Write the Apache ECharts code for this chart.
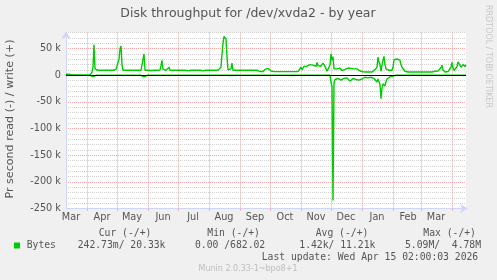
<!DOCTYPE html>
<html><head><meta charset="utf-8">
<script src="https://cdn.jsdelivr.net/npm/echarts@6/dist/echarts.min.js"></script>
<style>html,body{margin:0;padding:0;background:#f0f0f0;}#c{width:497px;height:280px;}</style>
</head><body><div id="c"></div>
<script>
// ---- data ----
const START_DATE = '2025-03-11';
const DAYS = 401;
const MONTH_NAMES = ['Jan','Feb','Mar','Apr','May','Jun','Jul','Aug','Sep','Oct','Nov','Dec'];
const Y_MIN = -250000, Y_MAX = 80000, Y_STEP = 10000, Y_LABEL_STEP = 50000;
// write bytes/s (thousands), one value per day
const writeK = [
2,2,2,2,2,2,0.5,0.5,0.5,0.5,0.5,1.5,0.3,0.3,0.3,0.3,0.3,0.3,0.3,0.3,
0.3,0.3,0.3,0.3,0.3,1,6,15,57,12,9.4,9.4,9.4,9.4,9.4,9.4,9.4,9.4,9.4,9.4,
9.4,9.4,9.4,9.4,9.4,9.4,9.4,9.4,10,10.5,11,13,12,30,50,55,20,9.4,9.4,9.4,
9.4,9.4,9.4,9.4,9.4,9.4,9.4,9,9.4,9.4,9.4,9.4,9.4,9.4,9.4,9.4,10,12,40,9.4,
9.4,9.4,9.4,9.4,9.4,9,9.4,9.4,9.4,9.4,9.4,9.4,9.4,9.4,10,18,28,11,9.4,9.4,
9.4,9.4,10,15,9.4,9.4,9.4,9.4,9.4,9.4,9.4,9.4,9.4,9.4,9.4,9.4,9.4,9.4,9.4,9.4,
9.4,9.4,8.5,9.4,9.4,9.4,9.4,9.4,9.4,9.4,9.4,9.4,9.4,9.4,9.4,9.4,8.5,8.5,9,8.5,
9.4,9.4,9.4,9.4,9.4,9.4,9.4,9.4,9.4,9.4,9.4,9.4,9.4,9.4,9.4,15,40,60,73,76,
68,35,10,9.4,9.4,12,23,9.4,9.4,9.4,9.4,9.4,9.4,9.4,9.4,9.4,9.4,9.4,9.4,9.4,
9.4,9.4,9.4,9.4,9.4,9.4,9.4,9.4,9.4,9.4,9.4,9.4,7,7,7,7,7,7,10,11,
12,13,13,12,10,8,6.8,6.8,6.8,6.8,6.8,6.8,6.8,6.8,6.8,6.8,9.5,6.8,6.8,6.8,
6.8,9.5,6.8,6.8,6.8,6.8,6.8,6.8,6.8,6.8,6.8,6.8,6.8,6.8,6.8,15,10.5,13,16.5,14,
13.5,17,19,16.5,20,23,18,19,20,18,16.5,24,18,21,20,17,15,23,20,16.5,
12,7.5,8.5,8,19,40,28,35,12,8.5,10,12,10.5,12,13.5,11,8.5,10,12,11,
10,9.4,13.5,12,15,13,11,13.5,12,10.5,11,12,10,8.5,8,7,6.8,6.5,6.2,6.2,
6.2,6.2,6.2,6.2,6.2,6.2,6.2,8,9,10.5,12,15,34,25,20,7.5,19,28,35.5,20,
12,10,9.4,9.4,9.4,9.4,9.4,15,29,30,30.5,30.5,30.5,30,28,20,15,15,12,7.5,
6.5,6.2,6.2,6.2,6.2,6.2,6.2,6.2,6.2,7,6.2,6.2,6.2,6.2,6.2,6.2,6.2,6.2,6.2,6.2,
6.2,6.2,6.2,6.2,6.2,6.2,6.2,6.2,7,7.5,7.5,8,8,9,11,14,19,10,8,6.2,
6.5,7,7,8,10,15,24,14,9,6.5,10,16,25,22,19,15,13,20,18,16,
20
];
// read bytes/s (thousands, drawn negative), one value per day
const readK = [
0,0,0,0,0,0,0,0,0,0,0,0,0,0,0,0,0,0,0,0,
0,0,0,0,0,0,0,-2.6,0,0,0,0,0,0,0,0,0,0,0,0,
0,0,0,0,0,0,0,0,0,0,0,0,0,0,0,0,0,0,0,0,
0,0,0,0,0,0,0,0,0,0,0,0,0,0,0,0,0,0,-3,0,
0,0,0,0,0,0,0,0,0,0,0,0,0,0,0,0,0,0,0,0,
0,0,0,-2.6,0,0,0,0,0,0,0,0,0,0,0,0,0,0,0,0,
0,0,0,0,0,0,0,0,0,0,0,0,0,0,0,0,0,0,0,0,
0,0,0,0,0,0,0,0,0,0,0,0,0,0,0,0,0,0,0,0,
0,0,0,0,0,0,-2.6,0,0,0,0,0,0,0,0,0,0,0,0,0,
0,0,0,0,0,0,0,0,0,0,0,0,0,0,0,0,0,0,0,0,
0,0,0,0,0,0,0,0,0,0,0,0,0,0,0,0,0,0,0,0,
0,0,0,0,0,0,0,0,0,0,0,0,0,0,0,0,0,0,0,0,
0,0,0,0,0,0,0,0,0,0,0,0,0,0,0,0,0,0,0,0,
0,0,0,0,0,-14,-20,-235,-15,-8,-5,-5,-6,-6.5,-7,-9,-11,-8,-6,-5.6,
-5,-5,-5,-8,-11,-14,-9,-6,-5.6,-7,-8,-9.5,-11,-9,-8,-7,-7,-5,-4,-3.7,
-3.7,-4,-5,-4,-3.7,-3.7,-3.7,-5.6,-6,-7,-9,-12.5,-7,-12,-17.6,-44,-24,-16,-18,-20,
-12,-7,-3.7,-3.5,-3,-2.5,-2,-1.5,-1,-0.5,0,0,0,0,0,0,0,0,0,0,
0,0,0,0,0,0,0,0,0,0,0,0,0,0,0,0,0,0,0,0,
0,0,0,0,0,0,0,0,0,0,0,0,0,0,0,0,0,0,0,0,
0,0,0,0,0,0,0,0,0,0,0,0,0,0,0,0,0,0,0,0,
0
];
const TITLE = 'Disk throughput for /dev/xvda2 - by year';
const Y_NAME = 'Pr second read (-) / write (+)';
const SERIES_NAME = 'Bytes';
const LEGEND_HEADERS = ['Cur (-/+)','Min (-/+)','Avg (-/+)','Max (-/+)'];
const LEGEND_VALUES = ['242.73m/ 20.33k','0.00 /682.02','1.42k/ 11.21k','5.09M/  4.78M'];
const LAST_UPDATE = 'Last update: Wed Apr 15 02:00:03 2026';
const FOOTER = 'Munin 2.0.33-1~bpo8+1';
const SIDE = 'RRDTOOL / TOBI OETIKER';

// ---- build ----
const categories = [];
{
  const s = new Date(START_DATE + 'T00:00:00Z');
  for (let i = 0; i < DAYS; i++) {
    const d = new Date(s.getTime() + i * 86400000);
    categories.push(d.toISOString().slice(0, 10));
  }
}
const dayOf = v => parseInt(v.slice(8, 10), 10);
const GREEN = '#00cc00';
const MAJOR = '#f3a3a3';
const MINOR = '#d2d2d2';
const AXIS = '#cfd6f8';
const SANS = '"DejaVu Sans", sans-serif';
const MONO = '"DejaVu Sans Mono", monospace';
const FS = 9.72;

const chart = echarts.init(document.getElementById('c'), null, {renderer: 'canvas'});
const gridLeft = 66, gridTop = 32.6, gridW = 400, gridH = 176;

const legendX = [98.7, 207.3, 315.7, 423.3];
const valueX = [77.7, 195, 299.3, 405];
const graphics = [
  {type:'text', x:248, y:14, style:{text:TITLE, fill:'#555', font:'12.5px ' + SANS, align:'center', verticalAlign:'middle'}},
  {type:'text', x:10, y:119, rotation:Math.PI/2, style:{text:Y_NAME, fill:'#555', font:'11.1px ' + SANS, align:'center', verticalAlign:'middle'}},
  {type:'text', x:488, y:56.5, rotation:-Math.PI/2, style:{text:SIDE, fill:'#c8c8c8', font:'8px ' + SANS, align:'center', verticalAlign:'middle'}},
  {type:'rect', shape:{x:14, y:242.5, width:6, height:6}, style:{fill:GREEN}},
  {type:'text', x:26.7, y:245.7, style:{text:SERIES_NAME, fill:'#555', font:FS + 'px ' + MONO, align:'left', verticalAlign:'middle'}},
  {type:'text', x:261.7, y:257.3, style:{text:LAST_UPDATE, fill:'#555', font:FS + 'px ' + MONO, align:'left', verticalAlign:'middle'}},
  {type:'text', x:248, y:269.3, style:{text:FOOTER, fill:'#bdbdbd', font:'8px ' + SANS, align:'center', verticalAlign:'middle'}}
];
LEGEND_HEADERS.forEach((t, i) => graphics.push({type:'text', x:legendX[i], y:233.3, style:{text:t, fill:'#555', font:FS + 'px ' + MONO, align:'left', verticalAlign:'middle'}}));
LEGEND_VALUES.forEach((t, i) => graphics.push({type:'text', x:valueX[i], y:245.7, style:{text:t, fill:'#555', font:FS + 'px ' + MONO, align:'left', verticalAlign:'middle'}}));

const yColors = [];
for (let v = Y_MIN; v < Y_MIN + Y_LABEL_STEP; v += Y_STEP) yColors.push(v === Y_MIN ? MAJOR : MINOR);

chart.setOption({
  animation: false,
  backgroundColor: '#f0f0f0',
  grid: {left: gridLeft, top: gridTop, width: gridW, height: gridH, show: true, backgroundColor: '#ffffff', borderWidth: 0},
  xAxis: {
    type: 'category', data: categories, boundaryGap: false,
    axisLine: {onZero: false, lineStyle: {color: AXIS, width: 1}, symbol: ['none', 'arrow'], symbolSize: [7, 8], symbolOffset: [0, 2]},
    axisTick: {show: true, length: 2, interval: (i, v) => dayOf(v) === 1, lineStyle: {color: MAJOR}},
    axisLabel: {interval: (i, v) => dayOf(v) === 16, formatter: v => MONTH_NAMES[parseInt(v.slice(5, 7), 10) - 1], color: '#555', fontFamily: SANS, fontSize: FS, margin: 4},
    splitLine: {show: true, interval: (i, v) => dayOf(v) === 1, lineStyle: {color: MAJOR, type: [1, 1], width: 1}}
  },
  yAxis: {
    type: 'value', min: Y_MIN, max: Y_MAX, interval: Y_STEP,
    axisLine: {show: true, lineStyle: {color: AXIS, width: 1}, symbol: ['none', 'arrow'], symbolSize: [7, 8], symbolOffset: [0, 1.5]},
    axisTick: {show: false},
    axisLabel: {formatter: v => v === 0 ? '0' : (v % Y_LABEL_STEP === 0 ? (v / 1000) + ' k' : ''), color: '#555', fontFamily: SANS, fontSize: FS, margin: 5},
    splitLine: {show: true, lineStyle: {color: yColors, type: [1, 1], width: 1}}
  },
  graphic: graphics,
  series: [
    {type: 'line', name: SERIES_NAME + ' read', data: readK.map(v => v * 1000), symbol: 'none', lineStyle: {color: GREEN, width: 1.4}, itemStyle: {color: GREEN}, z: 2},
    {type: 'line', name: SERIES_NAME + ' write', data: writeK.map(v => v * 1000), symbol: 'none', lineStyle: {color: GREEN, width: 1.4}, itemStyle: {color: GREEN}, z: 3},
    {type: 'line', name: 'zero', data: [], symbol: 'none', z: 5,
     markLine: {silent: true, symbol: ['none', 'none'], label: {show: false}, animation: false,
       lineStyle: {color: '#000000', width: 1, type: 'solid'}, data: [{yAxis: 0}]}}
  ]
});
</script></body></html>
